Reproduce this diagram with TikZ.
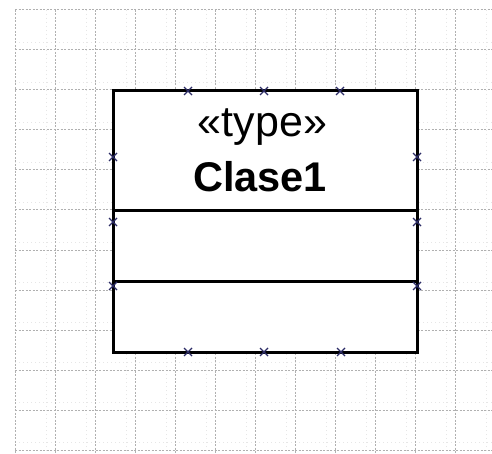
\documentclass[tikz,border=0pt]{standalone}
\usepackage{fontspec}
\setmainfont{Liberation Sans}
\definecolor{gridcol}{HTML}{B0B0B0}
\definecolor{gridfaint}{HTML}{E6E6E6}
\definecolor{markcol}{HTML}{2C2C66}
\tikzset{
  gridline/.style={gridcol, line width=1pt, dash pattern=on 2pt off 1.5pt},
  gridminor/.style={gridfaint, line width=0.7pt, dash pattern=on 1pt off 3pt},
  classbox/.style={draw=black, fill=white, line width=3pt, rectangle, inner sep=0pt, outer sep=0pt},
  divider/.style={black, line width=3pt},
  mk/.pic={\draw[markcol, line width=1.3pt] (-4,-4)--(4,4) (-4,4)--(4,-4);}
}
\begin{document}
\begin{tikzpicture}[x=1pt,y=-1pt]
\useasboundingbox (0,0) rectangle (492,454);
\fill[white] (0,0) rectangle (492,454);
% minor faint grid
\foreach \x in {46,86,...,486} \draw[gridminor] (\x,10) -- (\x,454);
\foreach \y in {42,82,...,442} \draw[gridminor] (15,\y) -- (492,\y);
% major grid
\foreach \x in {15,55,...,495} \draw[gridline] (\x,10) -- (\x,454);
\foreach \y in {10,50,...,450} \draw[gridline] (15,\y) -- (492,\y);
% class box
\node[classbox, minimum width=304pt, minimum height=261pt] (cls) at (265,221.5) {};
\coordinate (d1l) at (113,210.5);
\coordinate (d1r) at (417,210.5);
\coordinate (d2l) at (113,281);
\coordinate (d2r) at (417,281);
\draw[divider] (d1l) -- (d1r);
\draw[divider] (d2l) -- (d2r);
\node[anchor=base, inner sep=0pt, font=\fontsize{43}{43}\selectfont] (st) at (262.5,137) {«type»};
\node[anchor=base, inner sep=0pt, font=\bfseries\fontsize{41.5}{42}\selectfont] (nm) at (260,192) {Clase1};
% selection markers
\foreach \p in {(188,91),(264,91),(340,91),(188,352),(264,352),(341,352),(113,157),(113,222),(113,286),(417,157),(417,222),(417,286)}
  \pic at \p {mk};
\end{tikzpicture}
\end{document}
